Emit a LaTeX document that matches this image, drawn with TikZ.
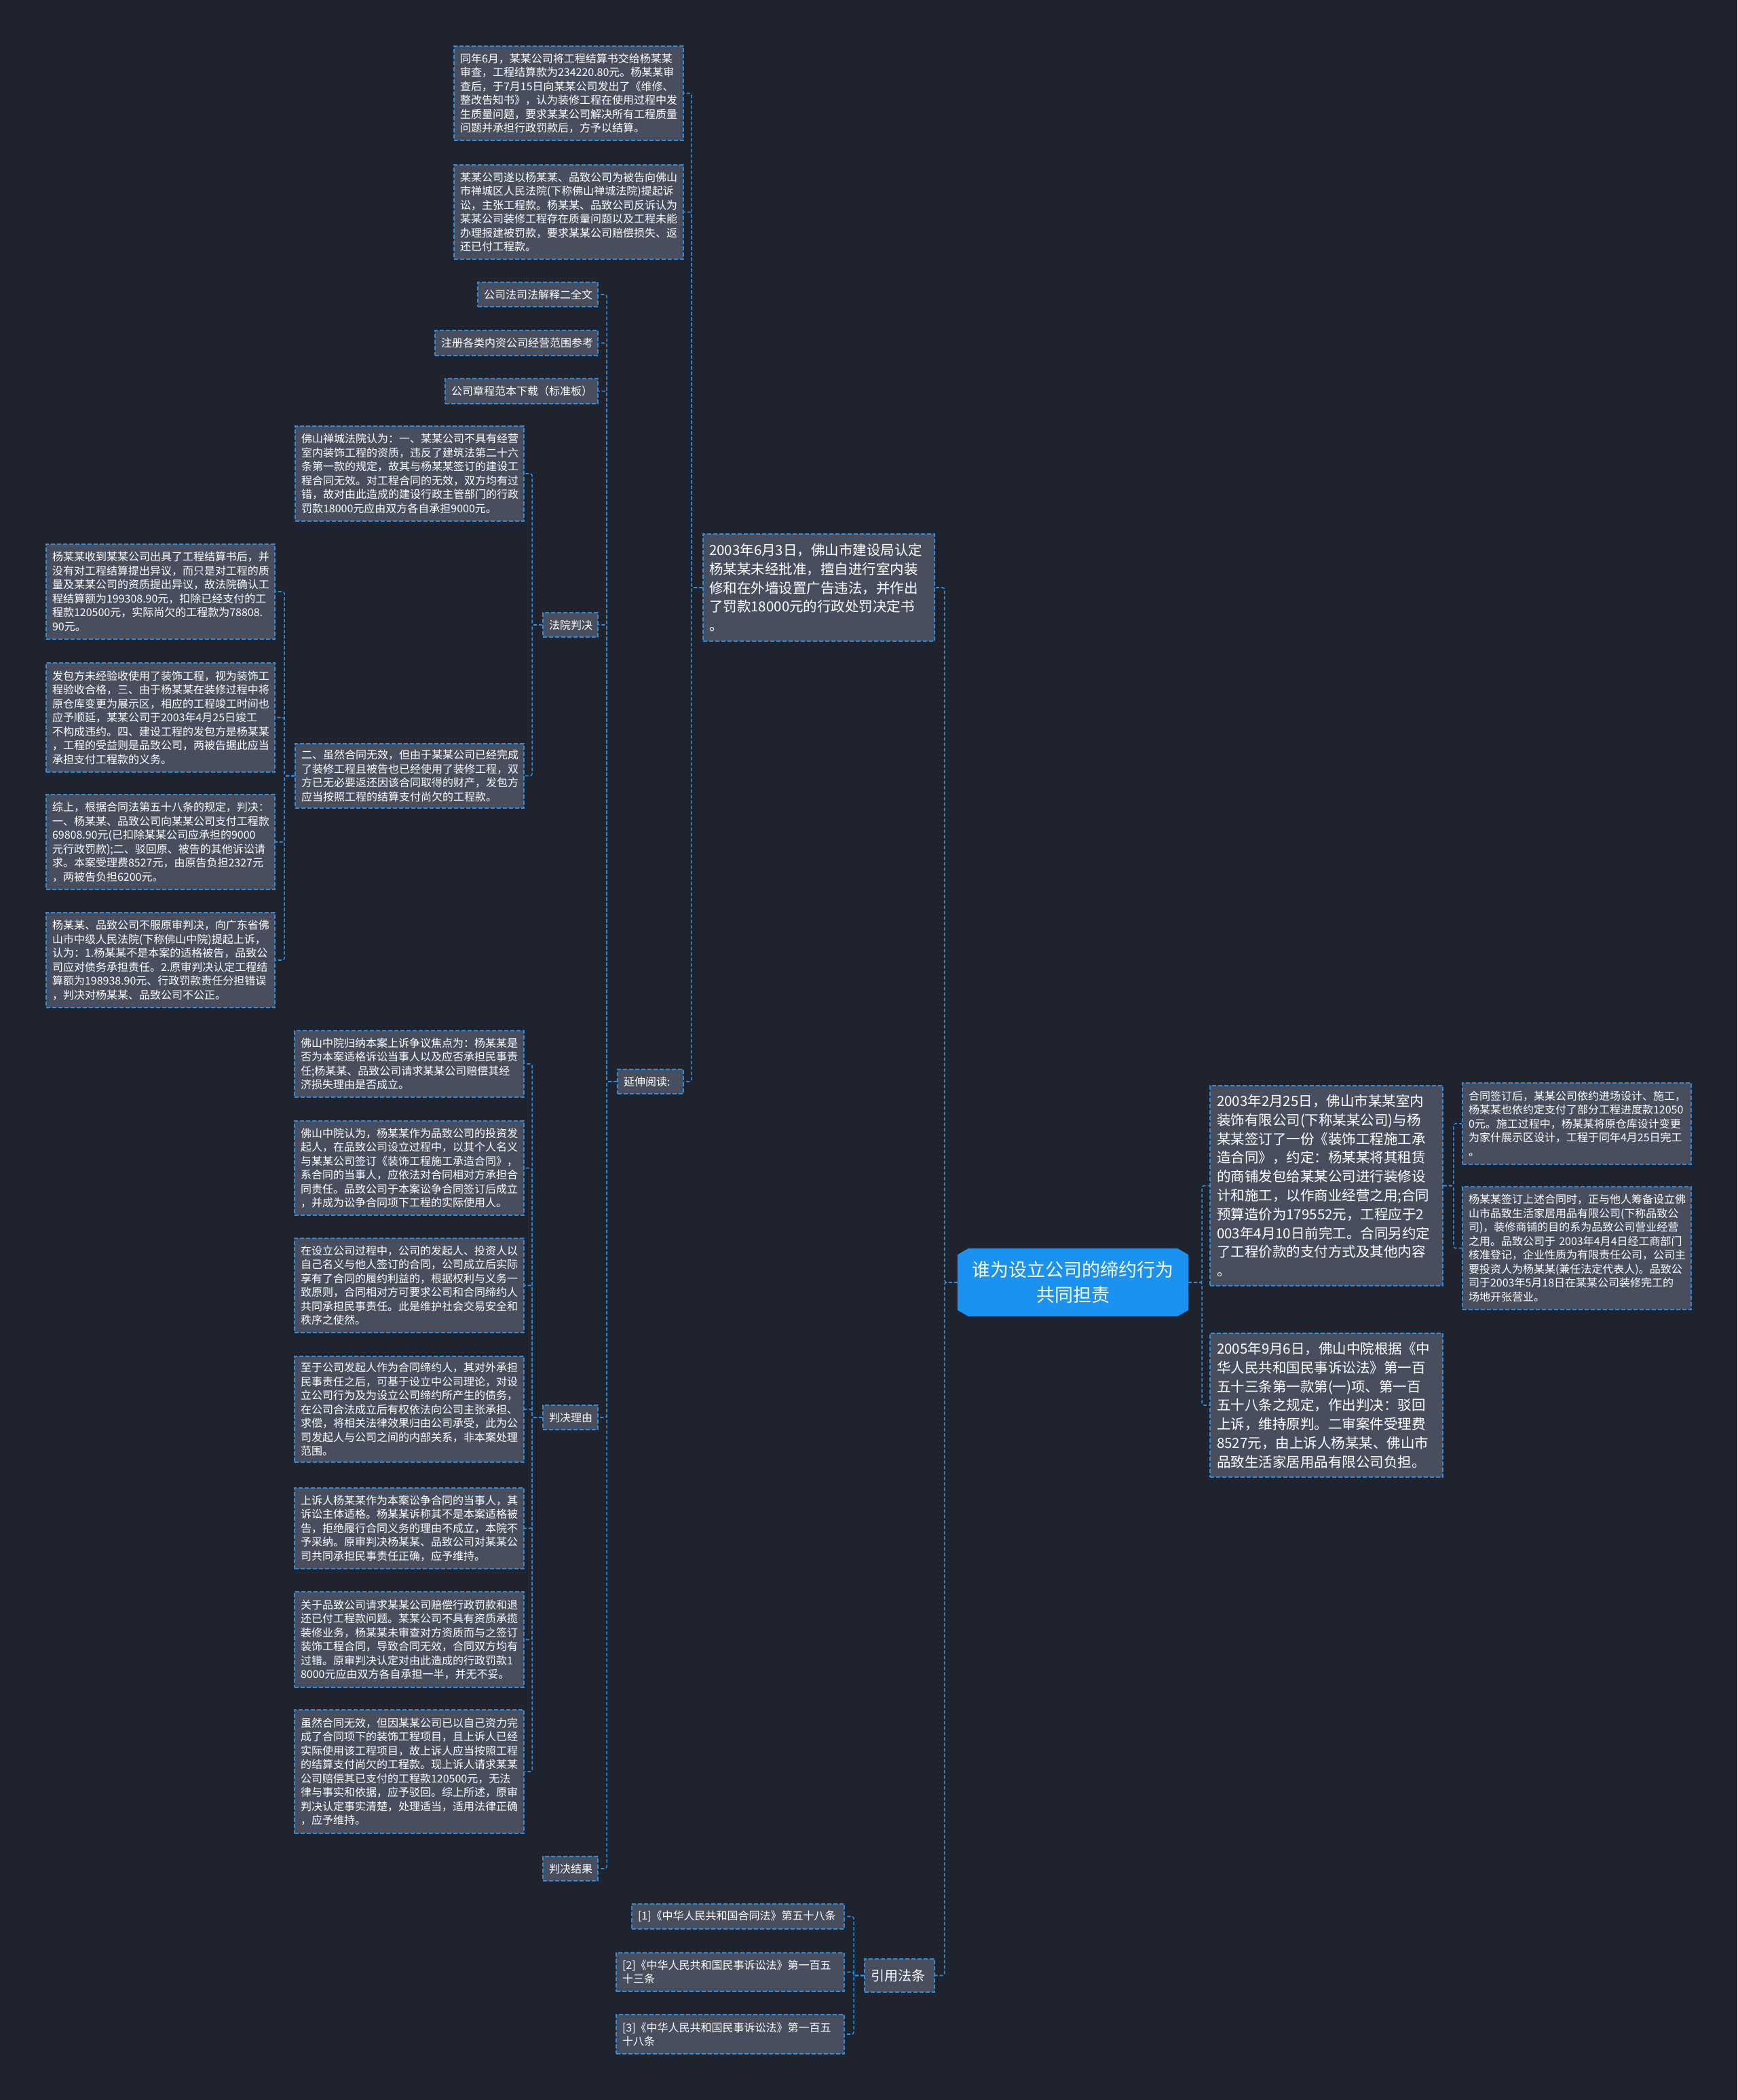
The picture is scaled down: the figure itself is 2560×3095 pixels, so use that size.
\documentclass[tikz,border=0pt]{standalone}
\usepackage{fontspec}
\setmainfont{Noto Sans CJK SC}
\usetikzlibrary{shapes.misc}
\definecolor{bgc}{RGB}{31,35,46}
\definecolor{boxc}{RGB}{72,78,94}
\definecolor{bordc}{RGB}{46,140,218}
\definecolor{linec}{RGB}{46,140,218}
\definecolor{rootc}{RGB}{28,146,240}
\newcommand{\fsS}{\fontsize{16}{20.5}\selectfont}
\newcommand{\fsM}{\fontsize{20.5}{27.8}\selectfont}
\newcommand{\fsL}{\fontsize{16}{20}\selectfont}
\newcommand{\myBox}[7][]{%
 \pgfmathsetmacro{\myCX}{(#3+#5)/2}\pgfmathsetmacro{\myCY}{(#4+#6)/2}%
 \pgfmathsetmacro{\myWW}{#5-#3}\pgfmathsetmacro{\myHH}{#6-#4}\pgfmathsetmacro{\myTW}{#5-#3-18}%
 \node[box,#1,minimum width=\myWW pt,minimum height=\myHH pt,text width=\myTW pt] (#2) at (\myCX,\myCY) {#7};}
\tikzset{
 box/.style={draw=bordc, fill=boxc, dash pattern=on 6pt off 3pt, line width=1.8pt, text=white, align=left, inner xsep=9pt, inner ysep=0pt, font=\fsS},
 med/.style={font=\fsM},
 lab/.style={font=\fsL},
 conn/.style={draw=linec, dash pattern=on 5pt off 3pt, line width=1.6pt, rounded corners=3pt},
}
\begin{document}
\begin{tikzpicture}[x=1pt,y=-1pt]
\fill[bgc] (0,0) rectangle (2560,3095);
\useasboundingbox (0,0) rectangle (2560,3095);

% root
\node[chamfered rectangle, chamfered rectangle xsep=10pt, chamfered rectangle angle=60, fill=rootc, draw=rootc, text=white, align=center, minimum width=340pt, minimum height=100pt, font=\fontsize{27}{37}\selectfont] (root) at (1581,1890) {谁为设立公司的缔约行为\\共同担责};

% left main
\myBox[med]{D}{1036}{787}{1377}{945}{2003年6月3日，佛山市建设局认定\\杨某某未经批准，擅自进行室内装\\修和在外墙设置广告违法，并作出\\了罚款18000元的行政处罚决定书\\。}
\myBox{A1}{669}{68}{1007}{207}{同年6月，某某公司将工程结算书交给杨某某\\审查，工程结算款为234220.80元。杨某某审\\查后，于7月15日向某某公司发出了《维修、\\整改告知书》，认为装修工程在使用过程中发\\生质量问题，要求某某公司解决所有工程质量\\问题并承担行政罚款后，方予以结算。}
\myBox{A2}{669}{243}{1007}{382}{某某公司遂以杨某某、品致公司为被告向佛山\\市禅城区人民法院(下称佛山禅城法院)提起诉\\讼，主张工程款。杨某某、品致公司反诉认为\\某某公司装修工程存在质量问题以及工程未能\\办理报建被罚款，要求某某公司赔偿损失、返\\还已付工程款。}
\myBox[lab]{E}{910}{1576}{1007}{1612}{延伸阅读:}

\myBox[lab]{L1}{704}{416}{881}{452}{公司法司法解释二全文}
\myBox[lab]{L2}{641}{487}{881}{524}{注册各类内资公司经营范围参考}
\myBox[lab]{L3}{656}{558}{881}{595}{公司章程范本下载（标准板）}
\myBox[lab]{N}{800}{903}{881}{939}{法院判决}
\myBox[lab]{F}{800}{2071}{881}{2107}{判决理由}
\myBox[lab]{H}{800}{2736}{881}{2772}{判决结果}

\myBox{B1}{435}{628}{772}{768}{佛山禅城法院认为：一、某某公司不具有经营\\室内装饰工程的资质，违反了建筑法第二十六\\条第一款的规定，故其与杨某某签订的建设工\\程合同无效。对工程合同的无效，双方均有过\\错，故对由此造成的建设行政主管部门的行政\\罚款18000元应由双方各自承担9000元。}
\myBox{B2}{435}{1096}{772}{1191}{二、虽然合同无效，但由于某某公司已经完成\\了装修工程且被告也已经使用了装修工程，双\\方已无必要返还因该合同取得的财产，发包方\\应当按照工程的结算支付尚欠的工程款。}

\myBox{C1}{68}{802}{405}{942}{杨某某收到某某公司出具了工程结算书后，并\\没有对工程结算提出异议，而只是对工程的质\\量及某某公司的资质提出异议，故法院确认工\\程结算额为199308.90元，扣除已经支付的工\\程款120500元，实际尚欠的工程款为78808.\\90元。}
\myBox{C2}{68}{977}{405}{1138}{发包方未经验收使用了装饰工程，视为装饰工\\程验收合格，三、由于杨某某在装修过程中将\\原仓库变更为展示区，相应的工程竣工时间也\\应予顺延，某某公司于2003年4月25日竣工\\不构成违约。四、建设工程的发包方是杨某某\\，工程的受益则是品致公司，两被告据此应当\\承担支付工程款的义务。}
\myBox{C3}{68}{1171}{405}{1311}{综上，根据合同法第五十八条的规定，判决：\\一、杨某某、品致公司向某某公司支付工程款\\69808.90元(已扣除某某公司应承担的9000\\元行政罚款);二、驳回原、被告的其他诉讼请\\求。本案受理费8527元，由原告负担2327元\\，两被告负担6200元。}
\myBox{C4}{68}{1345}{405}{1485}{杨某某、品致公司不服原审判决，向广东省佛\\山市中级人民法院(下称佛山中院)提起上诉，\\认为：1.杨某某不是本案的适格被告，品致公\\司应对债务承担责任。2.原审判决认定工程结\\算额为198938.90元、行政罚款责任分担错误\\，判决对杨某某、品致公司不公正。}

\myBox{G1}{434}{1519}{772}{1617}{佛山中院归纳本案上诉争议焦点为：杨某某是\\否为本案适格诉讼当事人以及应否承担民事责\\任;杨某某、品致公司请求某某公司赔偿其经\\济损失理由是否成立。}
\myBox{G2}{434}{1652}{772}{1791}{佛山中院认为，杨某某作为品致公司的投资发\\起人，在品致公司设立过程中，以其个人名义\\与某某公司签订《装饰工程施工承造合同》，\\系合同的当事人，应依法对合同相对方承担合\\同责任。品致公司于本案讼争合同签订后成立\\，并成为讼争合同项下工程的实际使用人。}
\myBox{G3}{434}{1825}{772}{1964}{在设立公司过程中，公司的发起人、投资人以\\自己名义与他人签订的合同，公司成立后实际\\享有了合同的履约利益的，根据权利与义务一\\致原则，合同相对方可要求公司和合同缔约人\\共同承担民事责任。此是维护社会交易安全和\\秩序之使然。}
\myBox{G4}{434}{1999}{772}{2155}{至于公司发起人作为合同缔约人，其对外承担\\民事责任之后，可基于设立中公司理论，对设\\立公司行为及为设立公司缔约所产生的债务，\\在公司合法成立后有权依法向公司主张承担、\\求偿，将相关法律效果归由公司承受，此为公\\司发起人与公司之间的内部关系，非本案处理\\范围。}
\myBox{G5}{434}{2193}{772}{2312}{上诉人杨某某作为本案讼争合同的当事人，其\\诉讼主体适格。杨某某诉称其不是本案适格被\\告，拒绝履行合同义务的理由不成立，本院不\\予采纳。原审判决杨某某、品致公司对某某公\\司共同承担民事责任正确，应予维持。}
\myBox{G6}{434}{2346}{772}{2487}{关于品致公司请求某某公司赔偿行政罚款和退\\还已付工程款问题。某某公司不具有资质承揽\\装修业务，杨某某未审查对方资质而与之签订\\装饰工程合同，导致合同无效，合同双方均有\\过错。原审判决认定对由此造成的行政罚款1\\8000元应由双方各自承担一半，并无不妥。}
\myBox{G7}{434}{2520}{772}{2702}{虽然合同无效，但因某某公司已以自己资力完\\成了合同项下的装饰工程项目，且上诉人已经\\实际使用该工程项目，故上诉人应当按照工程\\的结算支付尚欠的工程款。现上诉人请求某某\\公司赔偿其已支付的工程款120500元，无法\\律与事实和依据，应予驳回。综上所述，原审\\判决认定事实清楚，处理适当，适用法律正确\\，应予维持。}

% references
\myBox[font=\fontsize{20}{26}\selectfont]{K}{1274}{2887}{1377}{2936}{引用法条}
\myBox[lab]{K1}{931}{2806}{1244}{2843}{[1]《中华人民共和国合同法》第五十八条}
\myBox[lab]{K2}{908}{2878}{1244}{2935}{[2]《中华人民共和国民事诉讼法》第一百五\\十三条}
\myBox[lab]{K3}{908}{2969}{1244}{3027}{[3]《中华人民共和国民事诉讼法》第一百五\\十八条}

% right side
\myBox[med,inner xsep=10pt]{R1}{1784}{1600}{2125}{1895}{2003年2月25日，佛山市某某室内\\装饰有限公司(下称某某公司)与杨\\某某签订了一份《装饰工程施工承\\造合同》，约定：杨某某将其租赁\\的商铺发包给某某公司进行装修设\\计和施工，以作商业经营之用;合同\\预算造价为179552元，工程应于2\\003年4月10日前完工。合同另约定\\了工程价款的支付方式及其他内容\\。}
\myBox[med,inner xsep=10pt]{R2}{1784}{1965}{2125}{2177}{2005年9月6日，佛山中院根据《中\\华人民共和国民事诉讼法》第一百\\五十三条第一款第(一)项、第一百\\五十八条之规定，作出判决：驳回\\上诉，维持原判。二审案件受理费\\8527元，由上诉人杨某某、佛山市\\品致生活家居用品有限公司负担。}
\myBox{R1a}{2155}{1596}{2492}{1716}{合同签订后，某某公司依约进场设计、施工，\\杨某某也依约定支付了部分工程进度款12050\\0元。施工过程中，杨某某将原仓库设计变更\\为家什展示区设计，工程于同年4月25日完工\\。}
\myBox{R1b}{2155}{1749}{2492}{1930}{杨某某签订上述合同时，正与他人筹备设立佛\\山市品致生活家居用品有限公司(下称品致公\\司)，装修商铺的目的系为品致公司营业经营\\之用。品致公司于~2003年4月4日经工商部门\\核准登记，企业性质为有限责任公司，公司主\\要投资人为杨某某(兼任法定代表人)。品致公\\司于2003年5月18日在某某公司装修完工的\\场地开张营业。}

% connectors
\foreach \c in {D,K} \draw[conn] (root.west) -- ++(-19,0) |- (\c.east);
\foreach \c in {R1,R2} \draw[conn] (root.east) -- ++(20,0) |- (\c.west);
\foreach \c in {A1,A2,E} \draw[conn] (D.west) -- ++(-16,0) |- (\c.east);
\foreach \c in {L1,L2,L3,N,F,H} \draw[conn] (E.west) -- ++(-15,0) |- (\c.east);
\foreach \c in {B1,B2} \draw[conn] (N.west) -- ++(-15,0) |- (\c.east);
\foreach \c in {C1,C2,C3,C4} \draw[conn] (B2.west) -- ++(-15,0) |- (\c.east);
\foreach \c in {G1,G2,G3,G4,G5,G6,G7} \draw[conn] (F.west) -- ++(-15,0) |- (\c.east);
\foreach \c in {K1,K2,K3} \draw[conn] (K.west) -- ++(-15,0) |- (\c.east);
\foreach \c in {R1a,R1b} \draw[conn] (R1.east) -- ++(15,0) |- (\c.west);
\end{tikzpicture}
\end{document}
